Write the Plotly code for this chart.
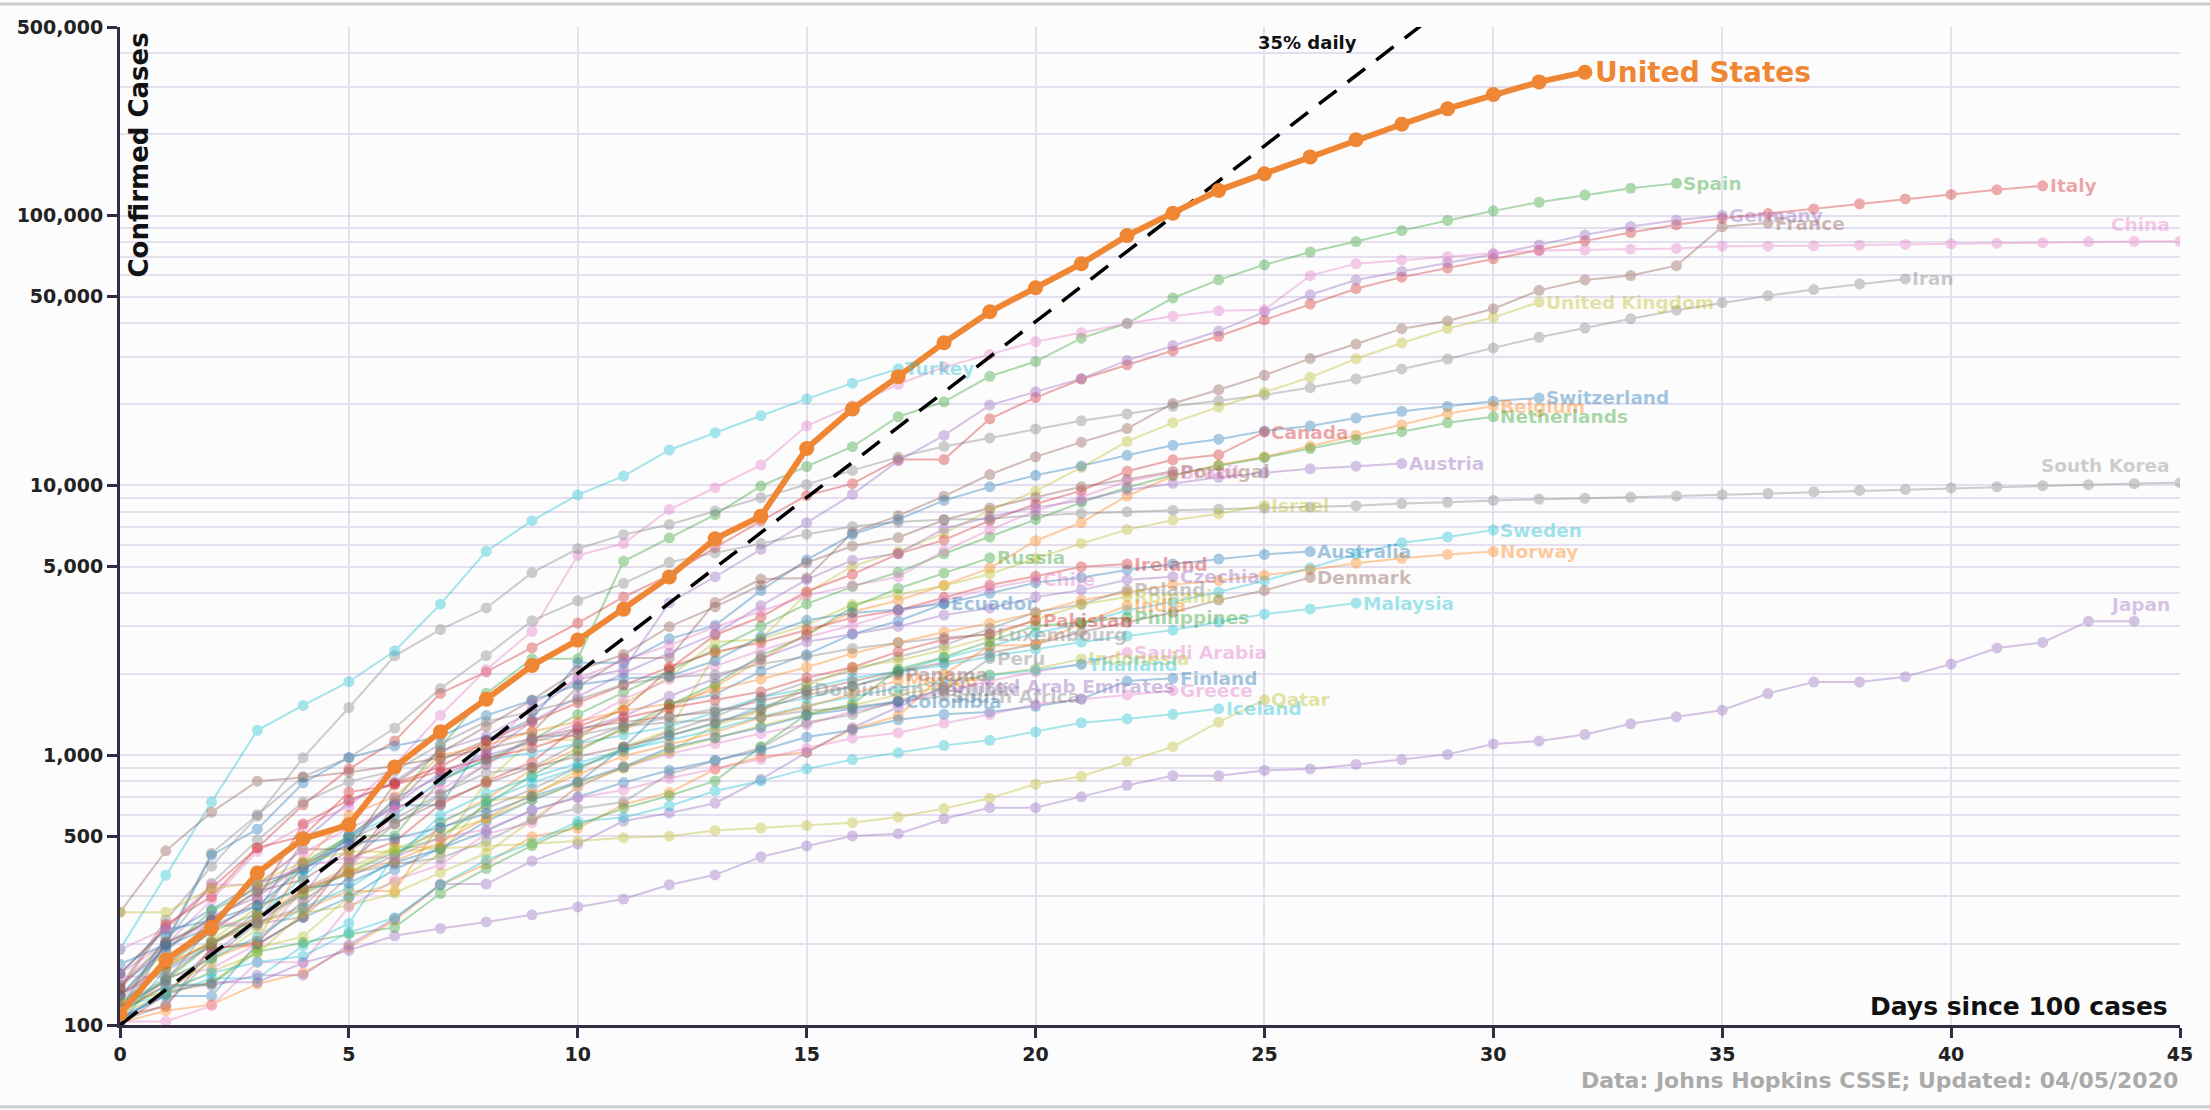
import math
import plotly.graph_objects as go

# ---------------- data (confirmed cases, index = days since 100 cases) ----------------
united_states = [110, 174, 230, 366, 490, 552, 904, 1222, 1611, 2150, 2670, 3475, 4580, 6340, 7690,
                 13700, 19200, 25300, 33800, 44000, 54000, 66300, 84300, 102000, 124000, 143000,
                 165000, 191000, 218000, 249000, 281000, 313000, 340000]
spain = [120, 165, 222, 259, 400, 500, 673, 1073, 1695, 2277, 2277, 5232, 6391, 7798, 9942, 11748,
         13910, 17963, 20410, 25374, 28768, 35136, 39885, 49515, 57786, 65719, 73235, 80110, 87956,
         95923, 104118, 112065, 119199, 126168, 131646]
italy = [155, 229, 322, 453, 655, 888, 1128, 1694, 2036, 2502, 3089, 3858, 4636, 5883, 7375, 9172,
         10149, 12462, 12462, 17660, 21157, 24747, 27980, 31506, 35713, 41035, 47021, 53578, 59138,
         63927, 69176, 74386, 80589, 86498, 92472, 97689, 101739, 105792, 110574, 115242, 119827,
         124632, 128948]
germany = [130, 159, 196, 262, 482, 670, 799, 1040, 1176, 1457, 1908, 2078, 3675, 4585, 5795, 7272,
           9257, 12327, 15320, 19848, 22213, 24873, 29056, 32986, 37323, 43938, 50871, 57695, 62095,
           66885, 71808, 77872, 84794, 91159, 96092, 100123]
france = [100, 130, 191, 204, 288, 380, 656, 959, 1136, 1219, 1794, 2293, 2293, 3681, 4496, 4532,
          6683, 7715, 9124, 10970, 12758, 14463, 16243, 20123, 22622, 25600, 29551, 33402, 38105,
          40708, 45170, 52827, 57749, 59929, 65202, 90848, 93790]
china = [121, 198, 291, 440, 548, 643, 920, 1406, 2075, 2877, 5509, 6087, 8141, 9802, 11891, 16630,
         19716, 23707, 27440, 30587, 34110, 36814, 39829, 42354, 44386, 44759, 59895, 66358, 68413,
         70513, 72434, 74211, 74619, 75077, 75550, 77001, 77022, 77241, 77754, 78166, 78600, 78928,
         79356, 79932, 80136, 80261, 80386, 80537]
iran = [139, 245, 388, 593, 978, 1501, 2336, 2922, 3513, 4747, 5823, 6566, 7161, 8042, 9000, 10075,
        11364, 12729, 13938, 14991, 16169, 17361, 18407, 19644, 20610, 21638, 23049, 24811, 27017,
        29406, 32332, 35408, 38309, 41495, 44605, 47593, 50468, 53183, 55743, 58226]
united_kingdom = [115, 163, 206, 273, 321, 382, 456, 456, 798, 1140, 1140, 1543, 1950, 2626, 2689,
                  3983, 5018, 5683, 6650, 8077, 9529, 11658, 14543, 17089, 19522, 22141, 25150,
                  29474, 33718, 38168, 41903, 47806]
turkey = [191, 359, 670, 1236, 1529, 1872, 2433, 3629, 5698, 7402, 9217, 10827, 13531, 15679, 18135,
          20921, 23934, 27069]
switzerland = [114, 214, 268, 337, 374, 491, 652, 652, 1139, 1359, 2200, 2200, 2700, 3028, 4075, 5294,
               6575, 7474, 8795, 9877, 10897, 11811, 12928, 14076, 14829, 15922, 16605, 17768, 18827,
               19606, 20505, 21100]
belgium = [109, 169, 200, 239, 267, 314, 314, 559, 689, 886, 1058, 1243, 1486, 1795, 2257, 2815,
           3401, 3743, 4269, 4937, 6235, 7284, 9134, 10836, 11899, 12775, 13964, 15348, 16770, 18431,
           19691]
netherlands = [128, 188, 265, 321, 382, 503, 503, 806, 962, 1138, 1416, 1711, 2058, 2467, 3003, 3640,
               4216, 4764, 5580, 6438, 7468, 8647, 9819, 10930, 11817, 12667, 13696, 14788, 15821,
               17053, 17953]
canada = [108, 117, 193, 198, 252, 415, 478, 657, 800, 943, 1277, 1469, 2088, 2790, 3251, 4042, 4682,
          5576, 6280, 7398, 8527, 9560, 11284, 12437, 12978, 15756]
austria = [104, 131, 182, 246, 302, 504, 655, 860, 1018, 1332, 1646, 2013, 2388, 2814, 3582, 4474,
           5283, 5588, 6909, 7657, 8271, 8788, 9618, 10180, 10711, 11129, 11524, 11781, 12051]
portugal = [112, 169, 245, 331, 448, 448, 785, 1020, 1280, 1600, 2060, 2362, 2995, 3544, 4268, 5170,
            5962, 6408, 7443, 8251, 9034, 9886, 10524, 11278]
brazil = [151, 151, 162, 200, 321, 372, 621, 793, 1021, 1546, 1924, 2247, 2554, 2985, 3417, 3904,
          4256, 4579, 5717, 6836, 8044, 9056, 10360, 11130]
south_korea = [104, 204, 433, 602, 833, 977, 1261, 1766, 2337, 3150, 3736, 4335, 5186, 5621, 6088,
               6593, 7041, 7314, 7478, 7513, 7755, 7869, 7979, 8086, 8162, 8236, 8320, 8413, 8565,
               8652, 8799, 8897, 8961, 9037, 9137, 9241, 9332, 9478, 9583, 9661, 9786, 9887, 9976,
               10062, 10156, 10237]
israel = [109, 131, 143, 193, 213, 298, 337, 433, 677, 705, 883, 1071, 1238, 2369, 2693, 3035, 3619,
          3938, 4247, 4695, 5358, 6092, 6857, 7428, 7851, 8430]
sweden = [101, 161, 203, 248, 355, 500, 599, 814, 961, 1022, 1103, 1190, 1279, 1439, 1639, 1763,
          1934, 2046, 2286, 2526, 2840, 3069, 3447, 3700, 4028, 4435, 4947, 5568, 6131, 6443, 6830]
norway = [108, 147, 176, 205, 400, 598, 702, 996, 1090, 1221, 1333, 1463, 1550, 1746, 1914, 2118,
          2385, 2621, 2863, 3084, 3369, 3755, 4015, 4284, 4445, 4641, 4863, 5147, 5370, 5550, 5687]
australia = [107, 128, 128, 200, 250, 297, 377, 452, 568, 681, 791, 1071, 1549, 1682, 2044, 2364,
             2810, 3143, 3640, 3984, 4361, 4559, 4862, 5116, 5330, 5550, 5687]
denmark = [262, 442, 615, 801, 827, 864, 914, 977, 1057, 1151, 1255, 1326, 1395, 1450, 1591, 1724,
           1877, 2046, 2201, 2395, 2577, 2860, 3107, 3386, 3757, 4077, 4561]
malaysia = [117, 129, 149, 149, 197, 238, 428, 566, 673, 790, 900, 1030, 1183, 1306, 1518, 1624, 1796,
            2031, 2161, 2320, 2470, 2626, 2766, 2908, 3116, 3333, 3483, 3662]
japan = [105, 132, 144, 144, 170, 189, 214, 228, 241, 256, 274, 293, 331, 360, 420, 461, 502, 511,
         581, 639, 639, 701, 773, 839, 839, 878, 889, 924, 963, 1007, 1101, 1128, 1193, 1307, 1387,
         1468, 1693, 1866, 1866, 1953, 2178, 2495, 2617, 3139, 3139]
russia = [114, 147, 199, 253, 306, 367, 438, 495, 658, 840, 1036, 1264, 1534, 1836, 2337, 2777, 3548,
          4149, 4731, 5389]
ireland = [129, 169, 223, 292, 557, 683, 785, 906, 1125, 1329, 1564, 1819, 2121, 2415, 2615, 2910,
           3235, 3447, 3849, 4273, 4604, 4994, 5111]
czechia = [141, 189, 253, 298, 396, 464, 694, 833, 995, 1120, 1236, 1394, 1654, 1925, 2279, 2631,
           2817, 3001, 3308, 3508, 3858, 4091, 4472, 4587]
chile = [155, 201, 238, 238, 434, 537, 632, 746, 922, 1142, 1306, 1610, 1909, 2139, 2449, 2738,
         3031, 3404, 3737, 4161, 4471]
poland = [103, 119, 177, 238, 251, 355, 425, 536, 634, 749, 901, 1051, 1221, 1389, 1638, 1862, 2055,
          2311, 2554, 2946, 3383, 3627, 4102]
romania = [123, 131, 158, 184, 260, 277, 308, 367, 433, 576, 762, 906, 1029, 1292, 1452, 1815, 2109,
           2245, 2460, 2738, 3183, 3613, 3864]
india = [102, 113, 119, 142, 156, 194, 244, 330, 396, 499, 536, 657, 727, 887, 987, 1024, 1251, 1397,
         1998, 2543, 2567, 3082, 3588]
philippines = [111, 140, 142, 187, 202, 217, 230, 307, 380, 462, 552, 636, 707, 803, 1075, 1418,
               1546, 2084, 2311, 2633, 3018, 3094, 3246]
pakistan = [136, 236, 299, 454, 501, 730, 776, 875, 972, 1063, 1201, 1373, 1495, 1597, 1717, 1938,
            2118, 2421, 2686, 2818, 3157]
luxembourg = [140, 203, 335, 484, 670, 798, 875, 1099, 1333, 1453, 1605, 1831, 1950, 1988, 2178,
              2319, 2487, 2612, 2729, 2804]
ecuador = [168, 199, 426, 532, 789, 981, 1082, 1173, 1403, 1595, 1823, 1924, 1962, 2240, 2748, 3163,
           3368, 3465, 3646]
peru = [117, 145, 234, 234, 318, 363, 395, 416, 480, 580, 635, 671, 852, 950, 1065, 1323, 1414, 1595,
        1746, 2281]
saudi_arabia = [103, 103, 118, 171, 171, 274, 344, 392, 511, 562, 767, 900, 1012, 1104, 1203, 1299,
                1453, 1563, 1720, 1885, 2039, 2179, 2402]
indonesia = [117, 134, 172, 227, 311, 369, 450, 514, 579, 686, 790, 893, 1046, 1155, 1285, 1414,
             1528, 1677, 1790, 1986, 2092, 2273]
thailand = [114, 147, 177, 212, 272, 322, 411, 599, 721, 827, 934, 1045, 1136, 1245, 1388, 1524,
            1651, 1771, 1875, 1978, 2067, 2169]
finland = [155, 225, 244, 277, 321, 336, 400, 450, 523, 626, 700, 792, 880, 958, 1041, 1167, 1240,
           1352, 1418, 1446, 1518, 1615, 1882, 1927]
united_arab_emirates = [113, 140, 140, 153, 153, 198, 248, 333, 333, 405, 468, 570, 611, 664, 814,
                        1024, 1264, 1505, 1799]
greece = [190, 228, 331, 331, 387, 418, 418, 495, 530, 624, 695, 743, 821, 892, 966, 1061, 1156, 1212,
          1314, 1415, 1544, 1613, 1673, 1735]
qatar = [262, 262, 320, 337, 401, 439, 439, 452, 460, 470, 481, 494, 501, 526, 537, 549, 562, 590,
         634, 693, 781, 835, 949, 1075, 1325, 1604]
iceland = [103, 134, 156, 171, 180, 220, 250, 330, 409, 473, 568, 588, 648, 737, 802, 890, 963, 1020,
           1086, 1135, 1220, 1319, 1364, 1417, 1486]
colombia = [128, 196, 231, 277, 378, 470, 491, 539, 608, 702, 798, 906, 1065, 1161, 1267, 1406, 1485,
            1579]
dominican_republic = [112, 202, 245, 312, 392, 488, 581, 719, 859, 901, 1109, 1284, 1380, 1488, 1488,
                      1745]
mexico = [118, 164, 203, 251, 316, 367, 405, 475, 585, 717, 848, 993, 1094, 1215, 1378, 1510, 1688,
          1890]
panama = [137, 200, 245, 313, 345, 443, 558, 674, 786, 901, 989, 1075, 1181, 1317, 1475, 1673, 1801,
          1988]
south_africa = [116, 150, 202, 240, 274, 402, 554, 709, 927, 1170, 1187, 1280, 1326, 1353, 1380, 1462,
                1505, 1585, 1655]

x_ticks = [0, 5, 10, 15, 20, 25, 30, 35, 40, 45]
y_ticks = [100, 500, 1000, 5000, 10000, 50000, 100000, 500000]
y_ticktext = ["100", "500", "1,000", "5,000", "10,000", "50,000", "100,000", "500,000"]
growth_rate = 0.35
growth_days = list(range(0, 30))

# ---------------- styling ----------------
C10 = {"blue": "31,119,180", "orange": "255,127,14", "green": "44,160,44", "red": "214,39,40",
       "purple": "148,103,189", "brown": "140,86,75", "pink": "227,119,194", "gray": "127,127,127",
       "olive": "188,189,34", "cyan": "23,190,207"}
US_COLOR = "#ef8633"
FONT = "DejaVu Sans"
DARK = "#332c45"
GRID = "#e3dfee"

countries = [
    ("Spain", spain, "green", "left"), ("Italy", italy, "red", "left"),
    ("Germany", germany, "purple", "left"), ("France", france, "brown", "left"),
    ("China", china, "pink", "edge"), ("Iran", iran, "gray", "left"),
    ("United Kingdom", united_kingdom, "olive", "left"), ("Turkey", turkey, "cyan", "left"),
    ("Switzerland", switzerland, "blue", "left"), ("Belgium", belgium, "orange", "left"),
    ("Netherlands", netherlands, "green", "left"), ("Canada", canada, "red", "left"),
    ("Austria", austria, "purple", "left"), ("Portugal", portugal, "brown", "left"),
    ("Brazil", brazil, "pink", "left"), ("South Korea", south_korea, "gray", "edge"),
    ("Israel", israel, "olive", "left"), ("Sweden", sweden, "cyan", "left"),
    ("Australia", australia, "blue", "left"), ("Norway", norway, "orange", "left"),
    ("Russia", russia, "green", "left"), ("Ireland", ireland, "red", "left"),
    ("Czechia", czechia, "purple", "left"), ("Denmark", denmark, "brown", "left"),
    ("Chile", chile, "pink", "left"), ("Poland", poland, "gray", "left"),
    ("Romania", romania, "olive", "left"), ("India", india, "orange", "left"),
    ("Ecuador", ecuador, "blue", "left"), ("Malaysia", malaysia, "cyan", "left"),
    ("Japan", japan, "purple", "edge"), ("Philippines", philippines, "green", "left"),
    ("Pakistan", pakistan, "red", "left"), ("Luxembourg", luxembourg, "gray", "left"),
    ("Saudi Arabia", saudi_arabia, "pink", "left"), ("Indonesia", indonesia, "olive", "left"),
    ("Thailand", thailand, "cyan", "left"), ("Peru", peru, "gray", "left"),
    ("Finland", finland, "blue", "left"), ("Mexico", mexico, "orange", "left"),
    ("Panama", panama, "brown", "left"), ("Dominican Republic", dominican_republic, "gray", "left"),
    ("Greece", greece, "pink", "left"), ("South Africa", south_africa, "gray", "left"),
    ("United Arab Emirates", united_arab_emirates, "purple", "left"),
    ("Iceland", iceland, "cyan", "left"), ("Colombia", colombia, "blue", "left"),
    ("Qatar", qatar, "olive", "left"),
]

fig = go.Figure()
annotations = []

for name, vals, cname, mode in countries:
    rgb = C10[cname]
    days = list(range(len(vals)))
    fig.add_trace(go.Scatter(
        x=days, y=vals, mode="lines+markers", name=name, opacity=0.38,
        line=dict(color=f"rgb({rgb})", width=2),
        marker=dict(color=f"rgb({rgb})", size=11),
        hoverinfo="skip", showlegend=False))
    if mode == "edge":
        xe = min(len(vals) - 1, 45)
        annotations.append(dict(
            x=45, y=math.log10(vals[xe]), xref="x", yref="y", text=name, showarrow=False,
            xanchor="right", yanchor="middle", xshift=-8, yshift=17,
            font=dict(family=FONT, size=18.5, weight=700, color=f"rgba({rgb},0.4)")))
    else:
        annotations.append(dict(
            x=days[-1], y=math.log10(vals[-1]), xref="x", yref="y", text=name, showarrow=False,
            xanchor="left", yanchor="middle", xshift=5,
            font=dict(family=FONT, size=18.5, weight=700, color=f"rgba({rgb},0.42)")))

# 35% daily reference line
fig.add_trace(go.Scatter(
    x=growth_days, y=[100 * (1 + growth_rate) ** d for d in growth_days], mode="lines",
    line=dict(color="black", width=3.5, dash="22px,14px"), hoverinfo="skip", showlegend=False))

# United States
us_days = list(range(len(united_states)))
fig.add_trace(go.Scatter(
    x=us_days, y=united_states, mode="lines+markers", name="United States",
    line=dict(color=US_COLOR, width=6), marker=dict(color=US_COLOR, size=15),
    hoverinfo="skip", showlegend=False))
annotations.append(dict(
    x=us_days[-1], y=math.log10(united_states[-1]), xref="x", yref="y", text="United States",
    showarrow=False, xanchor="left", yanchor="middle", xshift=8,
    font=dict(family=FONT, size=28, weight=700, color=US_COLOR)))

annotations += [
    dict(x=25.95, y=5.642, xref="x", yref="y", text="35% daily", showarrow=False,
         xanchor="center", yanchor="middle", font=dict(family=FONT, size=18, weight=700, color="#111")),
    dict(x=0.0097, y=0.997, xref="paper", yref="paper", text="Confirmed Cases", textangle=-90,
         showarrow=False, xanchor="center", yanchor="top",
         font=dict(family=FONT, size=26, weight=700, color="#111")),
    dict(x=0.995, y=0.019, xref="paper", yref="paper", text="Days since 100 cases", showarrow=False,
         xanchor="right", yanchor="middle", font=dict(family=FONT, size=25, weight=700, color="#111")),
    dict(x=1.0, y=-0.056, xref="paper", yref="paper",
         text="Data: Johns Hopkins CSSE; Updated: 04/05/2020", showarrow=False,
         xanchor="right", yanchor="middle", font=dict(family=FONT, size=22, weight=700, color="#aaaaaa")),
]

grid_vals = [m * 10 ** e for e in range(2, 6) for m in range(1, 10) if m * 10 ** e <= 500000]

fig.update_layout(
    width=2210, height=1110, autosize=False,
    margin=dict(l=120, r=30, t=27, b=85),
    paper_bgcolor="#fcfcfd", plot_bgcolor="#fcfcfd",
    showlegend=False,
    annotations=annotations,
    font=dict(family=FONT),
    shapes=[
        dict(type="line", xref="paper", yref="paper", x0=-0.06, x1=1.02, y0=1.023, y1=1.023,
             line=dict(color="#cccccc", width=3)),
        dict(type="line", xref="paper", yref="paper", x0=-0.06, x1=1.02, y0=-0.082, y1=-0.082,
             line=dict(color="#cccccc", width=3)),
    ],
    xaxis=dict(
        range=[0, 45], tickvals=x_ticks, showgrid=True, gridcolor=GRID, gridwidth=1.5,
        zeroline=False, showline=True, linecolor=DARK, linewidth=3,
        ticks="outside", ticklen=10, tickwidth=3, tickcolor=DARK,
        tickfont=dict(family=FONT, size=19, weight=700, color="#222")),
    yaxis=dict(
        type="log", range=[2, math.log10(500000)], tickvals=y_ticks, ticktext=y_ticktext,
        showgrid=True, gridcolor=GRID, gridwidth=1.5, zeroline=False,
        showline=True, linecolor=DARK, linewidth=3,
        ticks="outside", ticklen=10, tickwidth=3, tickcolor=DARK,
        tickfont=dict(family=FONT, size=19, weight=700, color="#222"),
        minor=dict(tickmode="array", tickvals=grid_vals, showgrid=True, gridcolor=GRID,
                   gridwidth=1.5, ticks="")),
)

fig.write_html("out.html")
